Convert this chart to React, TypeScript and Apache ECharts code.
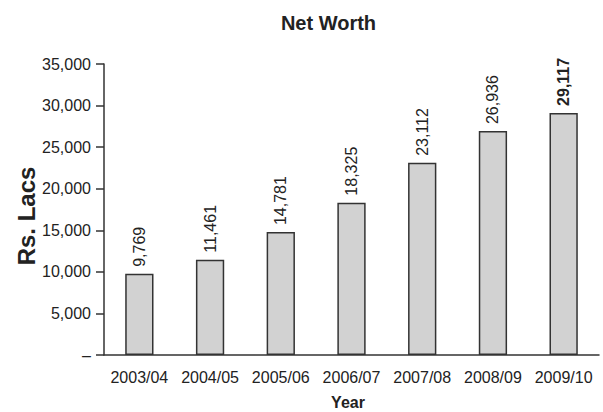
import React, { useEffect, useRef } from "react";
import * as echarts from "echarts";

const years = ["2003/04", "2004/05", "2005/06", "2006/07", "2007/08", "2008/09", "2009/10"];
const netWorth = [9769, 11461, 14781, 18325, 23112, 26936, 29117];
const boldIndex = 6;

const FONT = "'Liberation Sans', Arial, sans-serif";

export default function App() {
  const ref = useRef<HTMLDivElement>(null);
  useEffect(() => {
    if (!ref.current) return;
    const chart = echarts.init(ref.current, null, { renderer: "svg" });
    const fmt = (v: number) => v.toLocaleString("en-US");
    chart.setOption({
      animation: false,
      textStyle: { fontFamily: FONT },
      graphic: [
        {
          type: "text",
          x: 328.5,
          y: 23,
          style: {
            text: "Net Worth",
            fontFamily: FONT,
            fontSize: 20,
            fontWeight: "bold",
            fill: "#222",
            align: "center",
            verticalAlign: "middle",
          },
        },
        {
          type: "text",
          x: 348,
          y: 402,
          style: {
            text: "Year",
            fontFamily: FONT,
            fontSize: 16,
            fontWeight: "bold",
            fill: "#222",
            align: "center",
            verticalAlign: "middle",
          },
        },
        {
          type: "text",
          x: 26,
          y: 216,
          rotation: Math.PI / 2,
          style: {
            text: "Rs. Lacs",
            fontFamily: FONT,
            fontSize: 24,
            fontWeight: "bold",
            fill: "#222",
            align: "center",
            verticalAlign: "middle",
          },
        },
      ],
      grid: { left: 104, right: 4, top: 64, bottom: 57, containLabel: false },
      xAxis: {
        type: "category",
        data: years,
        axisLine: { lineStyle: { color: "#333", width: 1.5 } },
        axisTick: { length: 7, lineStyle: { color: "#333", width: 1.5 } },
        axisLabel: { interval: 0, fontFamily: FONT, fontSize: 16, color: "#222", margin: 14 },
      },
      yAxis: {
        type: "value",
        min: 0,
        max: 35000,
        interval: 5000,
        axisLine: { show: true, lineStyle: { color: "#333", width: 1.5 } },
        axisTick: { show: true, length: 8, lineStyle: { color: "#333", width: 1.5 } },
        splitLine: { show: false },
        axisLabel: {
          fontFamily: FONT,
          fontSize: 16,
          color: "#222",
          margin: 13,
          formatter: (v: number) => (v === 0 ? "–" : fmt(v)),
        },
      },
      series: [
        {
          type: "bar",
          barWidth: "40%",
          data: netWorth.map((v, i) =>
            i === boldIndex
              ? { value: v, label: { fontWeight: "bold" } }
              : v
          ),
          itemStyle: { color: "#d2d2d2", borderColor: "#333", borderWidth: 1.5 },
          label: {
            show: true,
            position: "top",
            rotate: 90,
            align: "left",
            verticalAlign: "middle",
            distance: 7,
            fontFamily: FONT,
            fontSize: 16,
            color: "#222",
            formatter: (p: any) => fmt(p.value),
          },
        },
      ],
    });
    return () => chart.dispose();
  }, []);
  return <div ref={ref} style={{ width: 603, height: 412, position: "absolute", left: 0, top: 0 }} />;
}
